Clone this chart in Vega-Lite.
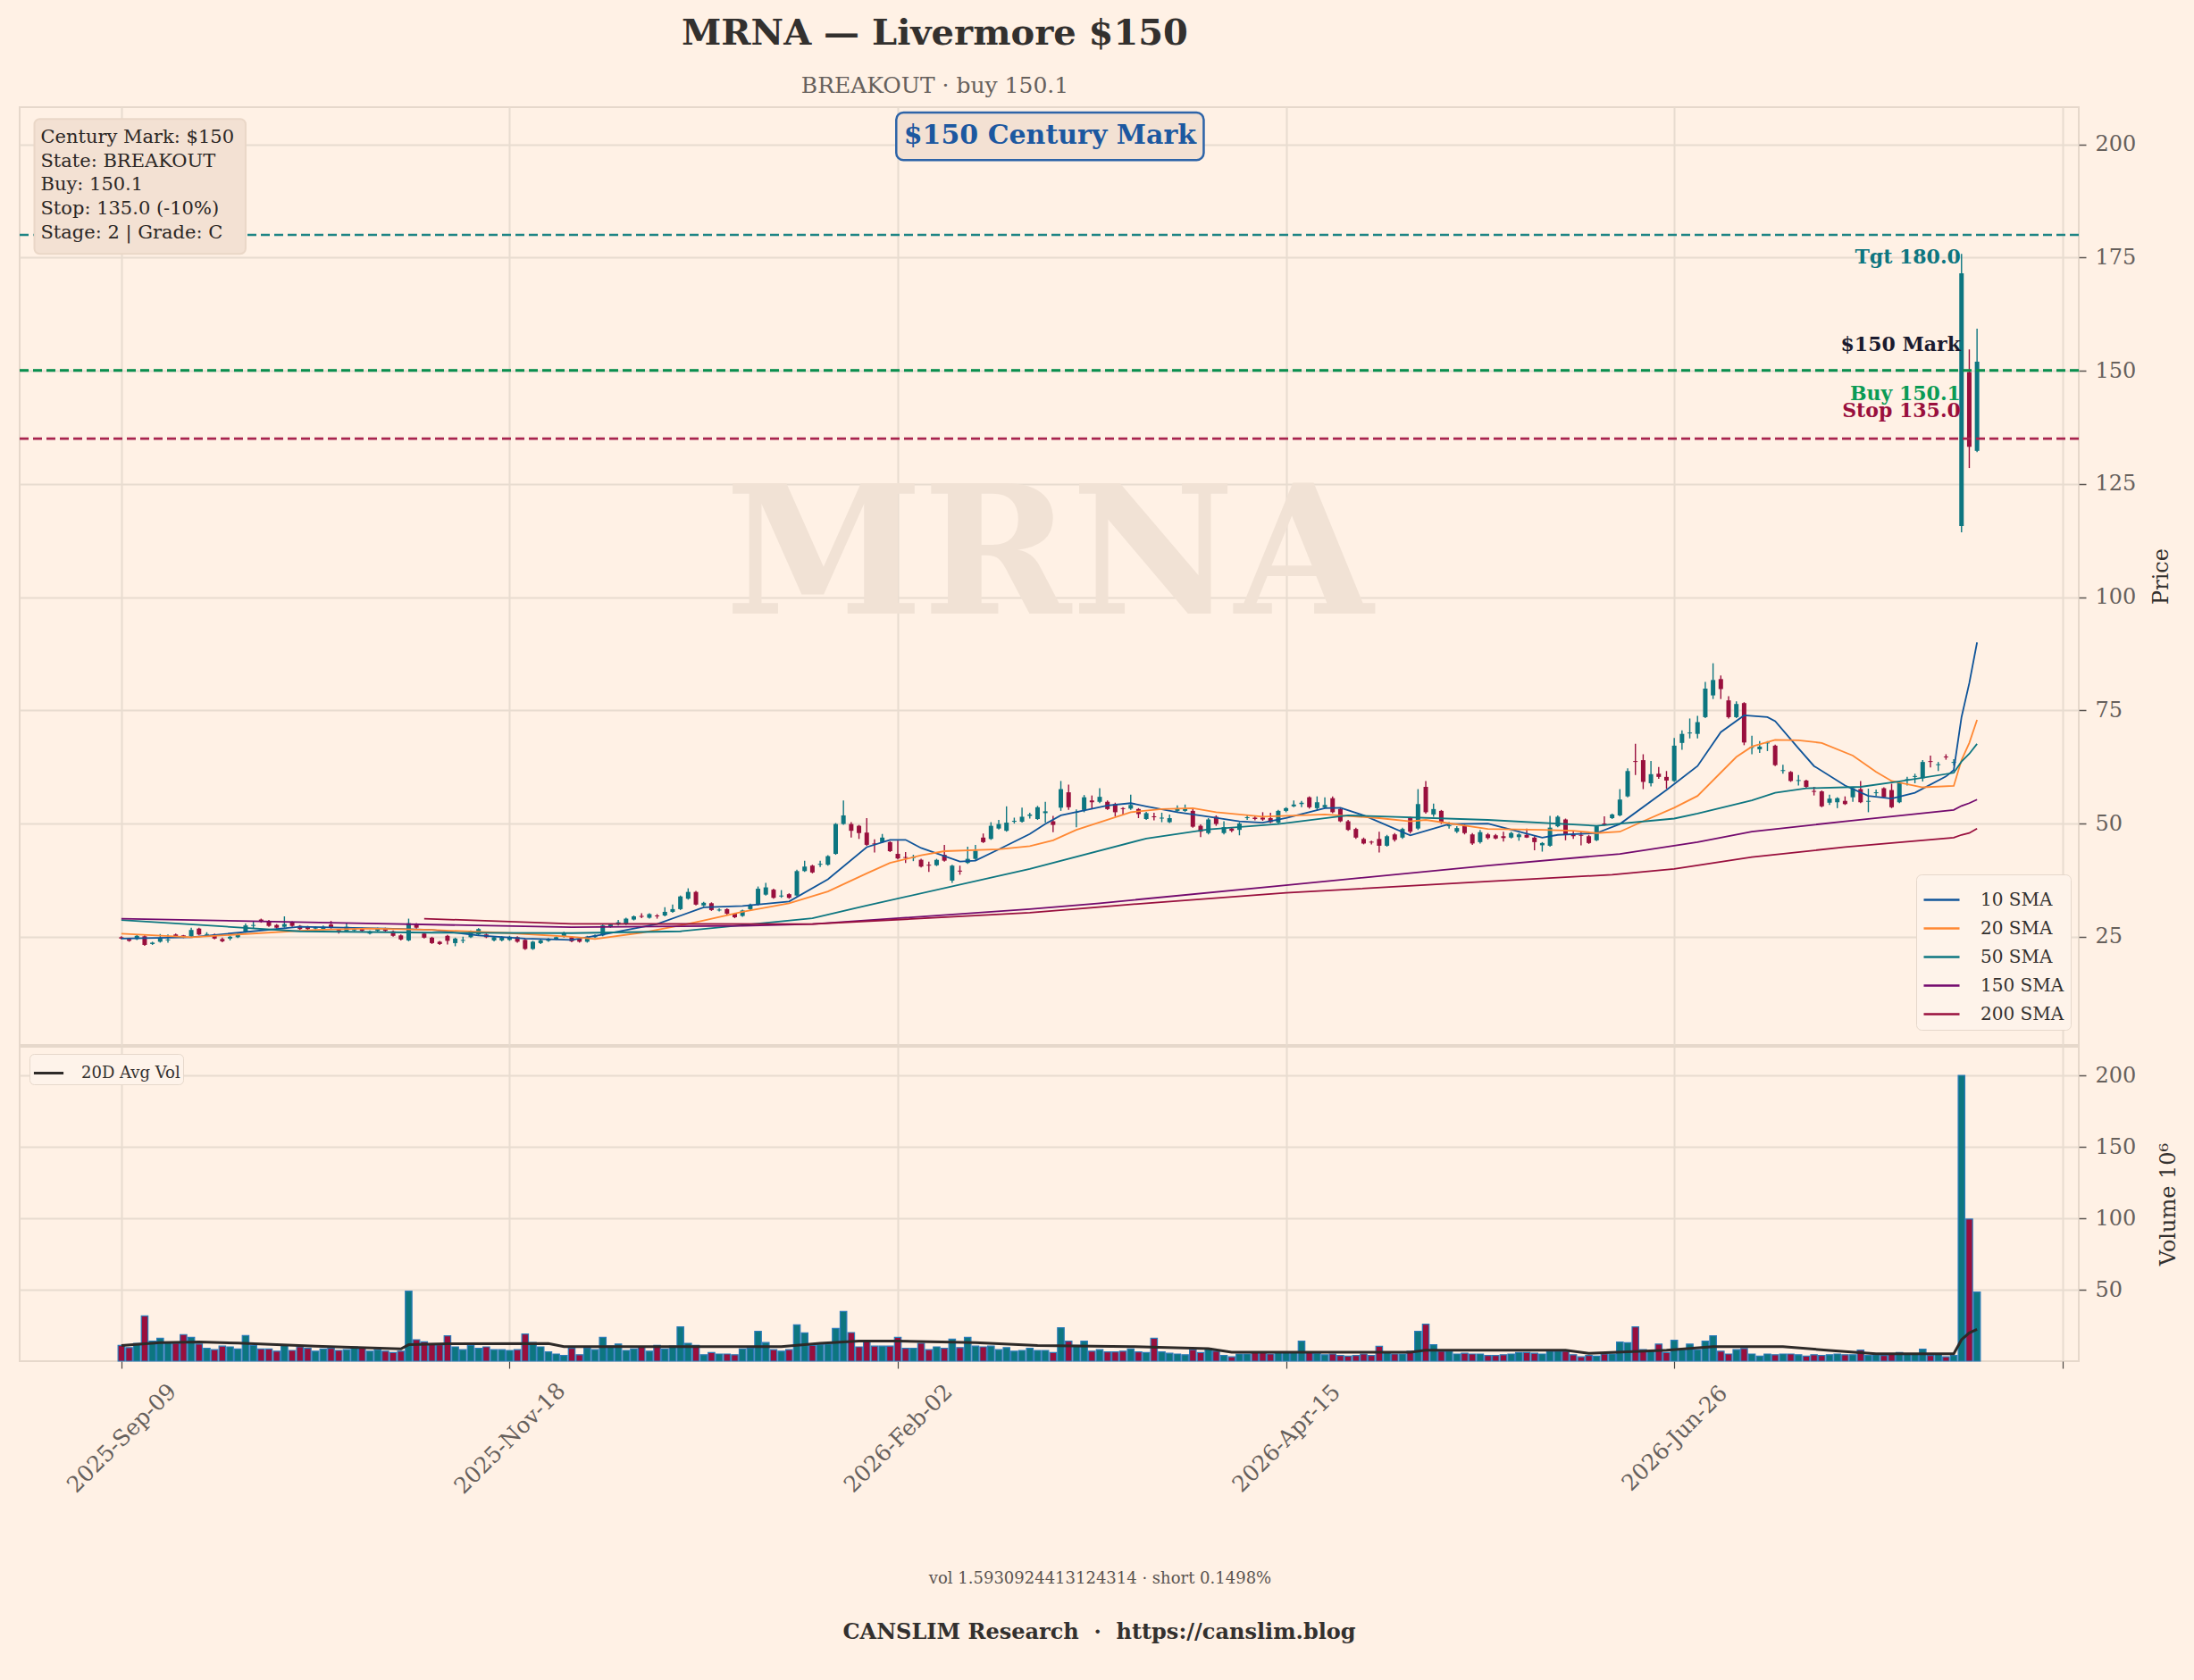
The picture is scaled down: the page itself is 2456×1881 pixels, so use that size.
{
  "$schema": "https://vega.github.io/schema/vega-lite/v6.json",
  "background": "#FFF1E5",
  "padding": {"left": 19, "top": 17, "right": 19, "bottom": 45},
  "config": {
    "font": "DejaVu Serif",
    "view": {"stroke": "#E6D8CB", "strokeWidth": 2},
    "axis": {
      "gridColor": "#E8DCD0", "gridWidth": 2, "domain": false,
      "labelFont": "DejaVu Serif", "labelFontSize": 24, "labelColor": "#66605C",
      "titleFont": "DejaVu Serif", "titleFontWeight": "normal", "titleColor": "#33302E", "titleFontSize": 24,
      "tickColor": "#5A5450", "tickSize": 8, "tickWidth": 1.5
    },
    "legend": {"labelFont": "DejaVu Serif"}
  },
  "datasets": {
    "bars": [
      {"i":0,"o":24.9,"h":25.1,"l":24.4,"c":24.6,"v":11},
      {"i":1,"o":24.5,"h":24.7,"l":23.9,"c":24.1,"v":9.5},
      {"i":2,"o":24.5,"h":25.5,"l":24.3,"c":25.2,"v":12.5},
      {"i":3,"o":25.1,"h":25.3,"l":23.0,"c":23.2,"v":31.7},
      {"i":4,"o":23.4,"h":23.9,"l":23.2,"c":23.7,"v":14},
      {"i":5,"o":23.9,"h":25.6,"l":23.7,"c":24.7,"v":16},
      {"i":6,"o":24.2,"h":25.5,"l":23.7,"c":24.4,"v":13},
      {"i":7,"o":25.5,"h":25.7,"l":24.8,"c":25.0,"v":12.5},
      {"i":8,"o":25.3,"h":25.4,"l":24.7,"c":24.9,"v":18.6},
      {"i":9,"o":25.1,"h":27.0,"l":24.9,"c":26.5,"v":16.7},
      {"i":10,"o":26.8,"h":27.0,"l":25.3,"c":25.5,"v":12},
      {"i":11,"o":25.4,"h":26.0,"l":25.1,"c":25.6,"v":9},
      {"i":12,"o":25.5,"h":25.7,"l":24.4,"c":24.6,"v":8},
      {"i":13,"o":24.5,"h":24.8,"l":23.8,"c":24.0,"v":10.5},
      {"i":14,"o":24.6,"h":25.2,"l":24.2,"c":25.0,"v":10},
      {"i":15,"o":24.9,"h":25.8,"l":24.7,"c":25.5,"v":8.5},
      {"i":16,"o":26.1,"h":27.9,"l":25.9,"c":27.5,"v":17.9},
      {"i":17,"o":27.4,"h":28.5,"l":26.9,"c":27.6,"v":11},
      {"i":18,"o":28.8,"h":29.0,"l":28.1,"c":28.3,"v":8.5},
      {"i":19,"o":28.5,"h":28.7,"l":27.2,"c":27.4,"v":8.5},
      {"i":20,"o":27.6,"h":27.8,"l":26.8,"c":27.0,"v":7},
      {"i":21,"o":27.2,"h":29.5,"l":27.0,"c":27.8,"v":11.5},
      {"i":22,"o":28.2,"h":28.4,"l":27.2,"c":27.4,"v":7.5},
      {"i":23,"o":27.4,"h":27.6,"l":26.5,"c":26.7,"v":10},
      {"i":24,"o":27.2,"h":27.4,"l":26.5,"c":26.7,"v":9},
      {"i":25,"o":26.8,"h":27.3,"l":26.6,"c":27.1,"v":7},
      {"i":26,"o":26.7,"h":27.5,"l":26.5,"c":27.2,"v":8.5},
      {"i":27,"o":27.7,"h":28.5,"l":26.8,"c":27.0,"v":9},
      {"i":28,"o":26.5,"h":26.7,"l":25.7,"c":26.1,"v":7.5},
      {"i":29,"o":26.2,"h":28.0,"l":26.0,"c":27.2,"v":8},
      {"i":30,"o":26.4,"h":26.9,"l":26.2,"c":26.7,"v":10},
      {"i":31,"o":26.7,"h":27.0,"l":26.1,"c":26.3,"v":9.5},
      {"i":32,"o":25.7,"h":26.4,"l":25.5,"c":26.2,"v":7},
      {"i":33,"o":26.3,"h":27.0,"l":26.1,"c":26.8,"v":8},
      {"i":34,"o":26.8,"h":27.0,"l":26.1,"c":26.3,"v":7},
      {"i":35,"o":26.2,"h":26.4,"l":25.0,"c":25.2,"v":6},
      {"i":36,"o":25.3,"h":25.5,"l":24.2,"c":24.4,"v":7},
      {"i":37,"o":24.2,"h":29.0,"l":24.0,"c":28.0,"v":49},
      {"i":38,"o":27.7,"h":28.0,"l":26.8,"c":27.0,"v":15},
      {"i":39,"o":25.7,"h":25.9,"l":24.6,"c":24.8,"v":13.5},
      {"i":40,"o":24.8,"h":25.0,"l":23.4,"c":23.6,"v":12},
      {"i":41,"o":23.9,"h":24.1,"l":23.2,"c":23.4,"v":11.5},
      {"i":42,"o":25.2,"h":25.4,"l":23.3,"c":24.1,"v":17.7},
      {"i":43,"o":23.6,"h":24.8,"l":22.9,"c":24.6,"v":10},
      {"i":44,"o":24.1,"h":25.0,"l":23.6,"c":24.3,"v":8},
      {"i":45,"o":24.9,"h":26.4,"l":24.7,"c":26.2,"v":11},
      {"i":46,"o":25.5,"h":26.9,"l":25.3,"c":26.7,"v":9},
      {"i":47,"o":25.5,"h":25.7,"l":24.7,"c":24.9,"v":10},
      {"i":48,"o":24.2,"h":25.1,"l":24.0,"c":24.9,"v":8},
      {"i":49,"o":24.2,"h":25.1,"l":24.0,"c":24.9,"v":8},
      {"i":50,"o":24.3,"h":25.2,"l":24.1,"c":25.0,"v":7.5},
      {"i":51,"o":24.9,"h":25.1,"l":23.7,"c":23.9,"v":8},
      {"i":52,"o":24.3,"h":24.5,"l":22.1,"c":22.3,"v":19},
      {"i":53,"o":22.3,"h":24.1,"l":22.1,"c":23.9,"v":13},
      {"i":54,"o":23.6,"h":24.4,"l":23.4,"c":24.2,"v":10},
      {"i":55,"o":24.1,"h":24.7,"l":23.9,"c":24.5,"v":6.5},
      {"i":56,"o":24.5,"h":25.1,"l":24.3,"c":24.9,"v":5},
      {"i":57,"o":25.0,"h":26.1,"l":24.8,"c":25.9,"v":4},
      {"i":58,"o":24.9,"h":25.1,"l":23.8,"c":24.0,"v":9},
      {"i":59,"o":24.6,"h":24.8,"l":23.7,"c":23.9,"v":4.5},
      {"i":60,"o":23.9,"h":25.2,"l":23.7,"c":25.0,"v":9},
      {"i":61,"o":24.9,"h":25.5,"l":24.7,"c":25.3,"v":8},
      {"i":62,"o":25.3,"h":27.7,"l":25.1,"c":27.5,"v":16.7},
      {"i":63,"o":27.2,"h":27.9,"l":27.0,"c":27.7,"v":10.5},
      {"i":64,"o":27.7,"h":28.7,"l":27.5,"c":28.2,"v":12},
      {"i":65,"o":27.8,"h":29.2,"l":27.6,"c":29.0,"v":7.5},
      {"i":66,"o":28.8,"h":29.7,"l":28.6,"c":29.5,"v":8.5},
      {"i":67,"o":29.6,"h":30.2,"l":29.1,"c":29.4,"v":10},
      {"i":68,"o":29.2,"h":30.2,"l":29.0,"c":30.0,"v":7},
      {"i":69,"o":29.7,"h":30.0,"l":29.0,"c":29.5,"v":11},
      {"i":70,"o":29.7,"h":31.5,"l":29.5,"c":30.5,"v":8.5},
      {"i":71,"o":30.5,"h":32.1,"l":30.3,"c":31.1,"v":10.5},
      {"i":72,"o":31.1,"h":34.1,"l":30.9,"c":33.9,"v":24},
      {"i":73,"o":33.4,"h":35.7,"l":33.2,"c":34.9,"v":12.5},
      {"i":74,"o":34.9,"h":35.1,"l":31.9,"c":32.1,"v":11},
      {"i":75,"o":31.9,"h":32.7,"l":31.7,"c":32.5,"v":4.5},
      {"i":76,"o":32.4,"h":32.6,"l":30.7,"c":30.9,"v":6},
      {"i":77,"o":30.8,"h":31.3,"l":30.6,"c":31.0,"v":5},
      {"i":78,"o":31.1,"h":31.3,"l":29.9,"c":30.1,"v":5},
      {"i":79,"o":30.1,"h":30.3,"l":29.1,"c":29.3,"v":4.5},
      {"i":80,"o":29.6,"h":31.0,"l":29.4,"c":30.8,"v":8.5},
      {"i":81,"o":31.1,"h":32.3,"l":30.9,"c":32.1,"v":9},
      {"i":82,"o":32.1,"h":36.1,"l":31.9,"c":35.6,"v":20.8},
      {"i":83,"o":34.3,"h":36.9,"l":34.1,"c":35.9,"v":13},
      {"i":84,"o":35.4,"h":35.6,"l":33.4,"c":33.6,"v":8},
      {"i":85,"o":33.9,"h":35.3,"l":33.6,"c":34.1,"v":7},
      {"i":86,"o":34.4,"h":34.6,"l":33.4,"c":33.6,"v":8},
      {"i":87,"o":34.1,"h":39.8,"l":33.9,"c":39.5,"v":25.4},
      {"i":88,"o":39.5,"h":41.8,"l":39.3,"c":40.5,"v":19.8},
      {"i":89,"o":40.7,"h":40.9,"l":39.0,"c":39.2,"v":11},
      {"i":90,"o":40.9,"h":41.8,"l":40.4,"c":41.1,"v":11.5},
      {"i":91,"o":40.9,"h":43.0,"l":40.7,"c":42.8,"v":12},
      {"i":92,"o":43.3,"h":50.1,"l":43.1,"c":49.9,"v":22.9},
      {"i":93,"o":49.9,"h":55.1,"l":49.7,"c":51.8,"v":34.8},
      {"i":94,"o":49.9,"h":50.3,"l":46.9,"c":48.4,"v":20},
      {"i":95,"o":49.5,"h":49.7,"l":46.6,"c":47.9,"v":10},
      {"i":96,"o":48.0,"h":51.2,"l":45.1,"c":45.3,"v":14},
      {"i":97,"o":45.6,"h":46.5,"l":43.6,"c":45.4,"v":10.5},
      {"i":98,"o":45.9,"h":47.7,"l":45.7,"c":46.9,"v":10.5},
      {"i":99,"o":45.9,"h":46.1,"l":43.7,"c":43.9,"v":10.5},
      {"i":100,"o":43.3,"h":46.2,"l":42.1,"c":42.3,"v":16.7},
      {"i":101,"o":42.6,"h":43.7,"l":41.3,"c":42.4,"v":9},
      {"i":102,"o":42.4,"h":43.1,"l":41.7,"c":42.6,"v":9},
      {"i":103,"o":42.0,"h":42.2,"l":40.3,"c":40.5,"v":12.5},
      {"i":104,"o":40.9,"h":41.6,"l":39.3,"c":40.7,"v":8},
      {"i":105,"o":40.8,"h":42.2,"l":40.6,"c":42.0,"v":10},
      {"i":106,"o":43.1,"h":45.3,"l":41.6,"c":41.8,"v":9},
      {"i":107,"o":37.4,"h":40.9,"l":36.9,"c":40.7,"v":15.4},
      {"i":108,"o":39.6,"h":40.7,"l":38.7,"c":39.4,"v":9.5},
      {"i":109,"o":41.3,"h":44.9,"l":41.1,"c":42.2,"v":16.7},
      {"i":110,"o":42.2,"h":45.3,"l":42.0,"c":44.0,"v":10.5},
      {"i":111,"o":46.9,"h":47.8,"l":45.7,"c":45.9,"v":10},
      {"i":112,"o":46.6,"h":50.3,"l":46.4,"c":49.5,"v":10.5},
      {"i":113,"o":48.9,"h":50.8,"l":48.7,"c":49.9,"v":8},
      {"i":114,"o":48.4,"h":53.8,"l":48.2,"c":50.2,"v":9.5},
      {"i":115,"o":50.4,"h":51.3,"l":50.0,"c":50.6,"v":7},
      {"i":116,"o":50.4,"h":53.5,"l":50.2,"c":51.5,"v":7.5},
      {"i":117,"o":51.7,"h":52.4,"l":51.1,"c":52.0,"v":9},
      {"i":118,"o":51.0,"h":53.9,"l":50.8,"c":53.6,"v":7.5},
      {"i":119,"o":52.3,"h":54.8,"l":50.2,"c":52.7,"v":7.5},
      {"i":120,"o":50.5,"h":51.7,"l":48.1,"c":49.7,"v":6},
      {"i":121,"o":53.5,"h":59.4,"l":52.8,"c":57.6,"v":23.3},
      {"i":122,"o":56.9,"h":58.6,"l":53.0,"c":53.6,"v":14},
      {"i":123,"o":52.4,"h":53.1,"l":49.2,"c":52.6,"v":11},
      {"i":124,"o":53.0,"h":56.3,"l":52.5,"c":55.8,"v":14},
      {"i":125,"o":55.1,"h":56.2,"l":53.2,"c":54.7,"v":7},
      {"i":126,"o":54.8,"h":57.8,"l":54.5,"c":55.9,"v":8},
      {"i":127,"o":54.8,"h":55.1,"l":53.0,"c":53.2,"v":6.5},
      {"i":128,"o":54.3,"h":54.6,"l":51.6,"c":52.5,"v":6.5},
      {"i":129,"o":53.4,"h":53.6,"l":52.0,"c":53.2,"v":7},
      {"i":130,"o":53.3,"h":56.4,"l":53.0,"c":54.1,"v":8.5},
      {"i":131,"o":53.2,"h":53.4,"l":51.2,"c":52.1,"v":6.5},
      {"i":132,"o":51.0,"h":52.6,"l":50.8,"c":52.3,"v":6},
      {"i":133,"o":51.6,"h":52.4,"l":50.7,"c":51.4,"v":16},
      {"i":134,"o":51.1,"h":52.4,"l":50.3,"c":51.3,"v":6.5},
      {"i":135,"o":50.3,"h":52.0,"l":50.1,"c":51.2,"v":5.5},
      {"i":136,"o":52.8,"h":54.0,"l":52.5,"c":53.4,"v":5},
      {"i":137,"o":52.8,"h":54.2,"l":52.6,"c":53.4,"v":4.5},
      {"i":138,"o":52.8,"h":53.2,"l":49.1,"c":49.3,"v":8},
      {"i":139,"o":49.5,"h":49.8,"l":47.0,"c":48.2,"v":6},
      {"i":140,"o":47.9,"h":51.2,"l":47.6,"c":50.9,"v":9},
      {"i":141,"o":51.5,"h":51.8,"l":49.5,"c":49.9,"v":7},
      {"i":142,"o":47.9,"h":50.5,"l":47.6,"c":49.2,"v":4},
      {"i":143,"o":48.9,"h":49.2,"l":48.1,"c":48.4,"v":3},
      {"i":144,"o":48.6,"h":50.3,"l":47.4,"c":50.0,"v":5},
      {"i":145,"o":51.2,"h":52.0,"l":50.8,"c":51.4,"v":5},
      {"i":146,"o":51.3,"h":51.8,"l":50.7,"c":51.0,"v":6},
      {"i":147,"o":51.3,"h":52.5,"l":50.6,"c":50.9,"v":6},
      {"i":148,"o":51.2,"h":52.4,"l":50.1,"c":50.3,"v":5},
      {"i":149,"o":50.2,"h":53.0,"l":50.0,"c":52.8,"v":6},
      {"i":150,"o":52.8,"h":53.6,"l":52.5,"c":53.4,"v":6},
      {"i":151,"o":53.8,"h":55.1,"l":53.6,"c":54.2,"v":6},
      {"i":152,"o":54.3,"h":55.0,"l":53.6,"c":54.6,"v":14},
      {"i":153,"o":55.8,"h":56.0,"l":53.3,"c":53.6,"v":6.5},
      {"i":154,"o":53.4,"h":56.0,"l":53.0,"c":54.7,"v":5.5},
      {"i":155,"o":53.6,"h":55.8,"l":53.3,"c":54.1,"v":4.5},
      {"i":156,"o":55.6,"h":56.0,"l":52.3,"c":52.5,"v":5},
      {"i":157,"o":53.2,"h":53.5,"l":50.3,"c":50.5,"v":4},
      {"i":158,"o":50.5,"h":50.8,"l":48.4,"c":48.6,"v":3.5},
      {"i":159,"o":48.8,"h":49.1,"l":46.6,"c":46.9,"v":4},
      {"i":160,"o":46.6,"h":46.9,"l":45.4,"c":45.6,"v":5},
      {"i":161,"o":46.0,"h":46.2,"l":45.4,"c":45.8,"v":4},
      {"i":162,"o":46.6,"h":48.2,"l":43.6,"c":45.1,"v":10.4},
      {"i":163,"o":45.1,"h":47.5,"l":44.9,"c":47.2,"v":6},
      {"i":164,"o":47.6,"h":47.9,"l":46.0,"c":46.4,"v":5},
      {"i":165,"o":46.9,"h":49.1,"l":46.6,"c":48.8,"v":5},
      {"i":166,"o":51.2,"h":51.5,"l":47.8,"c":48.2,"v":7},
      {"i":167,"o":48.9,"h":57.6,"l":48.6,"c":54.3,"v":20.8},
      {"i":168,"o":58.1,"h":59.4,"l":52.2,"c":52.5,"v":25.8},
      {"i":169,"o":52.0,"h":54.4,"l":51.5,"c":53.2,"v":11.5},
      {"i":170,"o":52.8,"h":53.0,"l":49.9,"c":50.2,"v":7},
      {"i":171,"o":49.4,"h":50.3,"l":48.9,"c":49.6,"v":7},
      {"i":172,"o":48.2,"h":49.4,"l":47.9,"c":49.0,"v":5},
      {"i":173,"o":49.5,"h":49.8,"l":47.6,"c":47.9,"v":5.5},
      {"i":174,"o":47.6,"h":47.9,"l":45.3,"c":45.6,"v":5},
      {"i":175,"o":45.9,"h":48.6,"l":45.6,"c":48.1,"v":5},
      {"i":176,"o":47.6,"h":47.9,"l":46.5,"c":46.8,"v":4},
      {"i":177,"o":47.4,"h":47.7,"l":46.5,"c":46.7,"v":4},
      {"i":178,"o":47.2,"h":48.2,"l":46.0,"c":46.8,"v":4.5},
      {"i":179,"o":46.9,"h":48.2,"l":46.7,"c":47.9,"v":5},
      {"i":180,"o":47.0,"h":47.9,"l":46.2,"c":47.6,"v":6},
      {"i":181,"o":47.5,"h":48.9,"l":46.8,"c":46.9,"v":6},
      {"i":182,"o":46.9,"h":47.2,"l":44.1,"c":45.9,"v":5.5},
      {"i":183,"o":45.2,"h":45.9,"l":43.8,"c":45.7,"v":5},
      {"i":184,"o":45.1,"h":51.7,"l":44.9,"c":49.1,"v":7},
      {"i":185,"o":49.4,"h":51.8,"l":49.2,"c":51.5,"v":7},
      {"i":186,"o":50.9,"h":51.1,"l":46.3,"c":47.6,"v":7},
      {"i":187,"o":47.6,"h":48.4,"l":46.6,"c":47.2,"v":4.5},
      {"i":188,"o":47.5,"h":48.2,"l":45.2,"c":47.3,"v":3},
      {"i":189,"o":47.2,"h":47.5,"l":45.5,"c":45.7,"v":4},
      {"i":190,"o":46.3,"h":49.6,"l":46.1,"c":49.4,"v":3.5},
      {"i":191,"o":50.0,"h":51.6,"l":49.5,"c":49.7,"v":5},
      {"i":192,"o":51.2,"h":52.2,"l":51.0,"c":52.0,"v":5},
      {"i":193,"o":51.8,"h":57.6,"l":51.6,"c":55.3,"v":13.3},
      {"i":194,"o":56.0,"h":62.2,"l":55.8,"c":61.6,"v":12.9},
      {"i":195,"o":63.8,"h":67.6,"l":60.7,"c":63.6,"v":24},
      {"i":196,"o":64.0,"h":65.3,"l":57.6,"c":59.2,"v":8},
      {"i":197,"o":58.9,"h":63.8,"l":58.2,"c":60.9,"v":7},
      {"i":198,"o":61.0,"h":62.5,"l":59.9,"c":60.3,"v":11.9},
      {"i":199,"o":60.3,"h":61.6,"l":57.7,"c":59.5,"v":6},
      {"i":200,"o":59.4,"h":68.9,"l":59.2,"c":67.2,"v":14.6},
      {"i":201,"o":67.8,"h":70.6,"l":66.3,"c":69.8,"v":8},
      {"i":202,"o":69.9,"h":73.2,"l":68.8,"c":70.1,"v":11.9},
      {"i":203,"o":69.8,"h":73.8,"l":68.8,"c":72.4,"v":8},
      {"i":204,"o":73.5,"h":81.3,"l":73.3,"c":79.8,"v":14},
      {"i":205,"o":78.3,"h":85.4,"l":77.5,"c":81.7,"v":17.7},
      {"i":206,"o":81.9,"h":82.7,"l":77.5,"c":79.7,"v":7},
      {"i":207,"o":77.2,"h":78.1,"l":73.2,"c":73.5,"v":5},
      {"i":208,"o":73.5,"h":77.0,"l":73.3,"c":76.4,"v":8},
      {"i":209,"o":76.6,"h":76.8,"l":67.3,"c":67.9,"v":8.8},
      {"i":210,"o":66.7,"h":69.4,"l":65.3,"c":66.9,"v":5},
      {"i":211,"o":66.4,"h":68.2,"l":65.6,"c":67.0,"v":3.5},
      {"i":212,"o":67.7,"h":68.2,"l":66.0,"c":67.9,"v":5},
      {"i":213,"o":67.2,"h":67.4,"l":62.7,"c":62.9,"v":4.5},
      {"i":214,"o":61.6,"h":63.0,"l":61.0,"c":61.8,"v":5},
      {"i":215,"o":61.4,"h":61.6,"l":59.2,"c":59.4,"v":5},
      {"i":216,"o":59.4,"h":60.7,"l":58.4,"c":59.6,"v":4.5},
      {"i":217,"o":59.5,"h":59.7,"l":57.9,"c":58.1,"v":3.5},
      {"i":218,"o":57.2,"h":58.1,"l":56.2,"c":57.0,"v":4.5},
      {"i":219,"o":57.1,"h":57.3,"l":53.6,"c":53.8,"v":4},
      {"i":220,"o":54.6,"h":56.4,"l":54.1,"c":55.5,"v":4.5},
      {"i":221,"o":54.7,"h":55.8,"l":53.4,"c":55.6,"v":5},
      {"i":222,"o":55.0,"h":56.0,"l":54.1,"c":54.3,"v":4.5},
      {"i":223,"o":55.8,"h":58.0,"l":54.8,"c":57.8,"v":4.5},
      {"i":224,"o":57.6,"h":59.4,"l":54.5,"c":54.7,"v":7.7},
      {"i":225,"o":54.8,"h":57.7,"l":52.5,"c":55.0,"v":4},
      {"i":226,"o":56.7,"h":57.5,"l":56.1,"c":56.9,"v":4.5},
      {"i":227,"o":57.8,"h":58.0,"l":55.6,"c":55.8,"v":4},
      {"i":228,"o":57.4,"h":58.8,"l":53.4,"c":53.6,"v":5},
      {"i":229,"o":54.7,"h":59.3,"l":54.5,"c":59.1,"v":6},
      {"i":230,"o":59.6,"h":60.3,"l":58.4,"c":59.8,"v":5},
      {"i":231,"o":60.3,"h":61.0,"l":58.9,"c":60.5,"v":5},
      {"i":232,"o":60.0,"h":64.0,"l":59.3,"c":63.6,"v":8.3},
      {"i":233,"o":63.8,"h":65.0,"l":62.4,"c":63.6,"v":4},
      {"i":234,"o":62.9,"h":63.6,"l":61.6,"c":63.1,"v":5},
      {"i":235,"o":64.8,"h":65.3,"l":64.1,"c":64.6,"v":3},
      {"i":236,"o":63.4,"h":64.2,"l":62.8,"c":63.6,"v":4},
      {"i":237,"o":115.7,"h":175.8,"l":114.3,"c":171.5,"v":200},
      {"i":238,"o":149.7,"h":154.7,"l":128.5,"c":133.2,"v":99.4},
      {"i":239,"o":132.3,"h":159.3,"l":132.0,"c":152.0,"v":48.3}
    ],
    "sma": [
      {"s":"10 SMA","i":0,"v":24.6},{"s":"10 SMA","i":9,"v":24.9},{"s":"10 SMA","i":23,"v":27.2},{"s":"10 SMA","i":34,"v":26.8},
      {"s":"10 SMA","i":40,"v":26.5},{"s":"10 SMA","i":46,"v":25.3},{"s":"10 SMA","i":52,"v":24.6},{"s":"10 SMA","i":58,"v":24.3},
      {"s":"10 SMA","i":62,"v":25.5},{"s":"10 SMA","i":69,"v":27.8},{"s":"10 SMA","i":75,"v":31.5},{"s":"10 SMA","i":80,"v":31.8},
      {"s":"10 SMA","i":86,"v":32.8},{"s":"10 SMA","i":91,"v":37.7},{"s":"10 SMA","i":96,"v":44.8},{"s":"10 SMA","i":99,"v":46.4},
      {"s":"10 SMA","i":101,"v":46.4},{"s":"10 SMA","i":103,"v":44.6},{"s":"10 SMA","i":108,"v":41.6},{"s":"10 SMA","i":110,"v":41.8},
      {"s":"10 SMA","i":113,"v":44.3},{"s":"10 SMA","i":117,"v":47.7},{"s":"10 SMA","i":119,"v":49.9},{"s":"10 SMA","i":121,"v":51.8},
      {"s":"10 SMA","i":127,"v":54.0},{"s":"10 SMA","i":130,"v":54.5},{"s":"10 SMA","i":132,"v":53.8},{"s":"10 SMA","i":136,"v":52.5},
      {"s":"10 SMA","i":140,"v":51.5},{"s":"10 SMA","i":144,"v":50.5},{"s":"10 SMA","i":147,"v":50.2},{"s":"10 SMA","i":150,"v":51.2},
      {"s":"10 SMA","i":155,"v":53.4},{"s":"10 SMA","i":157,"v":53.5},{"s":"10 SMA","i":160,"v":51.8},{"s":"10 SMA","i":166,"v":47.4},
      {"s":"10 SMA","i":171,"v":49.9},{"s":"10 SMA","i":176,"v":50.0},{"s":"10 SMA","i":180,"v":48.2},{"s":"10 SMA","i":183,"v":46.9},
      {"s":"10 SMA","i":185,"v":47.5},{"s":"10 SMA","i":190,"v":47.9},{"s":"10 SMA","i":193,"v":49.9},{"s":"10 SMA","i":199,"v":57.4},
      {"s":"10 SMA","i":203,"v":62.7},{"s":"10 SMA","i":206,"v":70.2},{"s":"10 SMA","i":209,"v":73.9},{"s":"10 SMA","i":212,"v":73.5},
      {"s":"10 SMA","i":213,"v":72.6},{"s":"10 SMA","i":216,"v":66.6},{"s":"10 SMA","i":218,"v":62.7},{"s":"10 SMA","i":222,"v":58.4},
      {"s":"10 SMA","i":225,"v":56.1},{"s":"10 SMA","i":228,"v":55.5},{"s":"10 SMA","i":231,"v":56.8},{"s":"10 SMA","i":235,"v":60.4},
      {"s":"10 SMA","i":236,"v":61.8},{"s":"10 SMA","i":237,"v":73.5},{"s":"10 SMA","i":238,"v":81.0},{"s":"10 SMA","i":239,"v":90.0},

      {"s":"20 SMA","i":0,"v":25.7},{"s":"20 SMA","i":9,"v":24.9},{"s":"20 SMA","i":25,"v":26.5},{"s":"20 SMA","i":32,"v":26.8},
      {"s":"20 SMA","i":40,"v":26.5},{"s":"20 SMA","i":50,"v":25.8},{"s":"20 SMA","i":58,"v":25.0},{"s":"20 SMA","i":61,"v":24.5},
      {"s":"20 SMA","i":67,"v":25.9},{"s":"20 SMA","i":72,"v":27.5},{"s":"20 SMA","i":75,"v":28.6},{"s":"20 SMA","i":80,"v":30.5},
      {"s":"20 SMA","i":86,"v":32.4},{"s":"20 SMA","i":91,"v":35.0},{"s":"20 SMA","i":96,"v":39.0},{"s":"20 SMA","i":99,"v":41.3},
      {"s":"20 SMA","i":103,"v":43.0},{"s":"20 SMA","i":106,"v":43.9},{"s":"20 SMA","i":113,"v":44.3},{"s":"20 SMA","i":117,"v":45.0},
      {"s":"20 SMA","i":120,"v":46.3},{"s":"20 SMA","i":123,"v":48.6},{"s":"20 SMA","i":130,"v":52.5},{"s":"20 SMA","i":134,"v":53.2},
      {"s":"20 SMA","i":138,"v":53.4},{"s":"20 SMA","i":141,"v":52.5},{"s":"20 SMA","i":147,"v":51.5},{"s":"20 SMA","i":155,"v":52.0},
      {"s":"20 SMA","i":162,"v":51.2},{"s":"20 SMA","i":166,"v":50.5},{"s":"20 SMA","i":168,"v":50.8},{"s":"20 SMA","i":176,"v":48.8},
      {"s":"20 SMA","i":183,"v":48.6},{"s":"20 SMA","i":187,"v":48.4},{"s":"20 SMA","i":190,"v":47.9},{"s":"20 SMA","i":193,"v":48.2},
      {"s":"20 SMA","i":196,"v":50.5},{"s":"20 SMA","i":200,"v":53.5},{"s":"20 SMA","i":203,"v":56.1},{"s":"20 SMA","i":208,"v":64.7},
      {"s":"20 SMA","i":210,"v":67.0},{"s":"20 SMA","i":213,"v":68.5},{"s":"20 SMA","i":216,"v":68.4},{"s":"20 SMA","i":219,"v":67.8},
      {"s":"20 SMA","i":223,"v":65.0},{"s":"20 SMA","i":226,"v":61.4},{"s":"20 SMA","i":228,"v":59.4},{"s":"20 SMA","i":232,"v":58.0},
      {"s":"20 SMA","i":236,"v":58.3},{"s":"20 SMA","i":237,"v":64.0},{"s":"20 SMA","i":238,"v":67.8},{"s":"20 SMA","i":239,"v":72.9},

      {"s":"50 SMA","i":0,"v":28.7},{"s":"50 SMA","i":12,"v":27.4},{"s":"50 SMA","i":23,"v":26.2},{"s":"50 SMA","i":40,"v":25.9},
      {"s":"50 SMA","i":58,"v":25.8},{"s":"50 SMA","i":72,"v":26.2},{"s":"50 SMA","i":89,"v":29.1},{"s":"50 SMA","i":96,"v":31.9},
      {"s":"50 SMA","i":117,"v":40.0},{"s":"50 SMA","i":132,"v":46.7},{"s":"50 SMA","i":140,"v":48.7},{"s":"50 SMA","i":149,"v":49.9},
      {"s":"50 SMA","i":158,"v":51.8},{"s":"50 SMA","i":176,"v":50.8},{"s":"50 SMA","i":190,"v":49.5},{"s":"50 SMA","i":200,"v":51.1},
      {"s":"50 SMA","i":203,"v":52.2},{"s":"50 SMA","i":210,"v":55.1},{"s":"50 SMA","i":213,"v":56.8},{"s":"50 SMA","i":217,"v":57.8},
      {"s":"50 SMA","i":224,"v":58.1},{"s":"50 SMA","i":229,"v":59.3},{"s":"50 SMA","i":236,"v":61.2},{"s":"50 SMA","i":237,"v":63.7},
      {"s":"50 SMA","i":238,"v":65.4},{"s":"50 SMA","i":239,"v":67.6},

      {"s":"150 SMA","i":0,"v":29.0},{"s":"150 SMA","i":30,"v":28.0},{"s":"150 SMA","i":58,"v":27.1},{"s":"150 SMA","i":80,"v":27.4},
      {"s":"150 SMA","i":89,"v":27.8},{"s":"150 SMA","i":117,"v":31.1},{"s":"150 SMA","i":126,"v":32.4},{"s":"150 SMA","i":150,"v":36.4},
      {"s":"150 SMA","i":176,"v":40.7},{"s":"150 SMA","i":193,"v":43.3},{"s":"150 SMA","i":203,"v":45.9},{"s":"150 SMA","i":210,"v":48.2},
      {"s":"150 SMA","i":222,"v":50.5},{"s":"150 SMA","i":236,"v":53.0},{"s":"150 SMA","i":237,"v":53.9},{"s":"150 SMA","i":238,"v":54.5},
      {"s":"150 SMA","i":239,"v":55.3},

      {"s":"200 SMA","i":39,"v":29.0},{"s":"200 SMA","i":58,"v":27.85},{"s":"200 SMA","i":89,"v":27.8},{"s":"200 SMA","i":117,"v":30.3},
      {"s":"200 SMA","i":132,"v":32.4},{"s":"200 SMA","i":150,"v":34.7},{"s":"200 SMA","i":176,"v":37.2},{"s":"200 SMA","i":192,"v":38.7},
      {"s":"200 SMA","i":200,"v":40.0},{"s":"200 SMA","i":210,"v":42.6},{"s":"200 SMA","i":222,"v":44.8},{"s":"200 SMA","i":236,"v":46.9},
      {"s":"200 SMA","i":237,"v":47.5},{"s":"200 SMA","i":238,"v":47.9},{"s":"200 SMA","i":239,"v":48.9}
    ],
    "avgvol": [
      {"i":0,"v":11},{"i":5,"v":13},{"i":10,"v":13.4},{"i":15,"v":12.6},{"i":25,"v":10.5},{"i":36,"v":8.6},
      {"i":37,"v":11.5},{"i":42,"v":12.2},{"i":55,"v":12.3},{"i":57,"v":10.2},{"i":85,"v":10.2},{"i":90,"v":12.5},
      {"i":95,"v":14},{"i":100,"v":14},{"i":110,"v":12.9},{"i":118,"v":11},{"i":130,"v":10.2},{"i":140,"v":8.8},
      {"i":143,"v":6.3},{"i":166,"v":6.3},{"i":168,"v":7.7},{"i":186,"v":7.7},{"i":189,"v":5.5},{"i":199,"v":7.7},
      {"i":205,"v":10.2},{"i":214,"v":10.2},{"i":220,"v":7.5},{"i":226,"v":5.2},{"i":236,"v":5.2},{"i":237,"v":15},
      {"i":238,"v":19.8},{"i":239,"v":22.3}
    ],
    "levels": [
      {"lab":"Tgt 180.0","y":180},
      {"lab":"$150 Mark","y":150},
      {"lab":"Buy 150.1","y":150.1},
      {"lab":"Stop 135.0","y":135}
    ],
    "notes": [
      {"ticker":"MRNA","badge":"$150 Century Mark","info":"Century Mark: $150\nState: BREAKOUT\nBuy: 150.1\nStop: 135.0 (-10%)\nStage: 2 | Grade: C"}
    ]
  },
  "spacing": 0,
  "resolve": {"scale": {"x": "independent", "y": "independent", "color": "independent"}},
  "vconcat": [
    {
      "width": 2305,
      "height": 1050,
      "title": {
        "text": "MRNA — Livermore $150",
        "subtitle": "BREAKOUT · buy 150.1",
        "font": "DejaVu Serif", "subtitleFont": "DejaVu Serif",
        "fontSize": 40, "fontWeight": "bold", "color": "#33302E",
        "subtitleFontSize": 25, "subtitleColor": "#66605C", "subtitlePadding": 26,
        "offset": 11, "anchor": "middle", "frame": "group", "dx": -128
      },
      "layer": [
        {
          "data": {"name": "notes"},
          "mark": {"type": "text", "fontSize": 200, "fontWeight": "bold", "fill": "#F1E2D5", "align": "center", "baseline": "middle"},
          "encoding": {
            "x": {"datum": 119.5, "type": "quantitative", "scale": {"domain": [-13.1, 252.1], "nice": false, "zero": false, "padding": 0},
                  "axis": {"values": [0, 50, 100, 150, 200, 250], "labels": false, "ticks": false, "title": null, "grid": true}},
            "y": {"datum": 108.2, "type": "quantitative", "scale": {"domain": [1.1, 208.2], "nice": false, "zero": false, "padding": 0},
                  "axis": {"orient": "right", "values": [25, 50, 75, 100, 125, 150, 175, 200], "grid": true, "labelPadding": 10,
                           "title": "Price", "titleAngle": 270, "titleX": 92, "titleY": 525, "titleAlign": "center", "titleBaseline": "middle"}},
            "text": {"field": "ticker"}
          }
        },
        {
          "data": {"name": "bars"},
          "mark": {"type": "rule", "strokeWidth": 1.4},
          "encoding": {
            "x": {"field": "i", "type": "quantitative"},
            "y": {"field": "l", "type": "quantitative"},
            "y2": {"field": "h"},
            "stroke": {"condition": {"test": "datum.c >= datum.o", "value": "#0D7680"}, "value": "#990F3D"}
          }
        },
        {
          "data": {"name": "bars"},
          "mark": {"type": "bar", "size": 5},
          "encoding": {
            "x": {"field": "i", "type": "quantitative"},
            "y": {"field": "o", "type": "quantitative"},
            "y2": {"field": "c"},
            "fill": {"condition": {"test": "datum.c >= datum.o", "value": "#0D7680"}, "value": "#990F3D"}
          }
        },
        {
          "data": {"name": "sma"},
          "mark": {"type": "line"},
          "encoding": {
            "x": {"field": "i", "type": "quantitative"},
            "y": {"field": "v", "type": "quantitative"},
            "color": {
              "field": "s", "type": "nominal",
              "scale": {"domain": ["10 SMA", "20 SMA", "50 SMA", "150 SMA", "200 SMA"],
                        "range": ["#0F5499", "#FF8833", "#0D7680", "#730A6E", "#990F3D"]},
              "legend": {"orient": "none", "legendX": 2123, "legendY": 859, "title": null,
                         "fillColor": "#FEF3EA", "strokeColor": "#E6D8CB", "cornerRadius": 6, "padding": 7,
                         "labelFontSize": 20, "labelColor": "#33302E", "symbolType": "stroke",
                         "symbolSize": 1600, "symbolStrokeWidth": 2.6, "rowPadding": -7, "labelOffset": 22}
            },
            "strokeWidth": {
              "field": "s", "type": "nominal",
              "scale": {"domain": ["10 SMA", "20 SMA", "50 SMA", "150 SMA", "200 SMA"], "range": [1.8, 1.8, 2.4, 2.7, 3]},
              "legend": null
            }
          }
        },
        {
          "data": {"name": "levels"},
          "mark": {"type": "rule", "strokeWidth": 2.6, "strokeDash": [10, 5]},
          "encoding": {
            "y": {"field": "y", "type": "quantitative"},
            "stroke": {"field": "lab", "type": "nominal", "legend": null,
                       "scale": {"domain": ["Tgt 180.0", "$150 Mark", "Buy 150.1", "Stop 135.0"],
                                 "range": ["#1E8585", "#0A8F4F", "#0A8F4F", "#A8244E"]}}
          }
        },
        {
          "data": {"name": "notes"},
          "mark": {"type": "rect", "fill": "#F3E1D3", "stroke": "#EAD7C7", "strokeWidth": 2, "cornerRadius": 6},
          "encoding": {
            "x": {"datum": -11.2, "type": "quantitative"}, "x2": {"datum": 16.0},
            "y": {"datum": 205.6, "type": "quantitative"}, "y2": {"datum": 175.8}
          }
        },
        {
          "data": {"name": "notes"},
          "mark": {"type": "text", "fontSize": 21, "lineHeight": 26.7, "lineBreak": "\n", "fill": "#2B2624", "align": "left", "baseline": "middle"},
          "encoding": {
            "x": {"datum": -10.4, "type": "quantitative"},
            "y": {"datum": 201.5, "type": "quantitative"},
            "text": {"field": "info"}
          }
        },
        {
          "data": {"name": "notes"},
          "mark": {"type": "rect", "fill": "#F3E1D3", "stroke": "#2D64A8", "strokeWidth": 2.5, "cornerRadius": 8},
          "encoding": {
            "x": {"datum": 99.8, "type": "quantitative"}, "x2": {"datum": 139.4},
            "y": {"datum": 207.0, "type": "quantitative"}, "y2": {"datum": 196.5}
          }
        },
        {
          "data": {"name": "notes"},
          "mark": {"type": "text", "fontSize": 30, "fontWeight": "bold", "fill": "#1C58A0", "align": "center", "baseline": "middle"},
          "encoding": {
            "x": {"datum": 119.6, "type": "quantitative"},
            "y": {"datum": 201.8, "type": "quantitative"},
            "text": {"field": "badge"}
          }
        },
        {
          "data": {"name": "levels"},
          "transform": [{"filter": "datum.lab == 'Tgt 180.0'"}],
          "mark": {"type": "text", "fontSize": 22, "fontWeight": "bold", "fill": "#0D7680", "align": "right", "baseline": "middle", "dy": 25},
          "encoding": {"x": {"datum": 236.9, "type": "quantitative"}, "y": {"field": "y", "type": "quantitative"}, "text": {"field": "lab"}}
        },
        {
          "data": {"name": "levels"},
          "transform": [{"filter": "datum.lab == '$150 Mark'"}],
          "mark": {"type": "text", "fontSize": 22, "fontWeight": "bold", "fill": "#1A1A2E", "align": "right", "baseline": "middle", "dy": -29},
          "encoding": {"x": {"datum": 236.9, "type": "quantitative"}, "y": {"field": "y", "type": "quantitative"}, "text": {"field": "lab"}}
        },
        {
          "data": {"name": "levels"},
          "transform": [{"filter": "datum.lab == 'Buy 150.1'"}],
          "mark": {"type": "text", "fontSize": 22, "fontWeight": "bold", "fill": "#0A9B55", "align": "right", "baseline": "middle", "dy": 26},
          "encoding": {"x": {"datum": 236.9, "type": "quantitative"}, "y": {"field": "y", "type": "quantitative"}, "text": {"field": "lab"}}
        },
        {
          "data": {"name": "levels"},
          "transform": [{"filter": "datum.lab == 'Stop 135.0'"}],
          "mark": {"type": "text", "fontSize": 22, "fontWeight": "bold", "fill": "#990F3D", "align": "right", "baseline": "middle", "dy": -31},
          "encoding": {"x": {"datum": 236.9, "type": "quantitative"}, "y": {"field": "y", "type": "quantitative"}, "text": {"field": "lab"}}
        }
      ]
    },
    {
      "width": 2305,
      "height": 352,
      "title": {
        "text": "CANSLIM Research \u00a0·\u00a0 https://canslim.blog",
        "orient": "bottom", "anchor": "middle", "frame": "group", "dx": 56, "offset": 40,
        "font": "DejaVu Serif", "fontSize": 24, "fontWeight": "bold", "color": "#33302E"
      },
      "layer": [
        {
          "data": {"name": "bars"},
          "mark": {"type": "bar", "size": 7.4, "stroke": "#2B7BB9", "strokeWidth": 1.2},
          "encoding": {
            "x": {"field": "i", "type": "quantitative", "scale": {"domain": [-13.1, 252.1], "nice": false, "zero": false, "padding": 0},
                  "axis": {"values": [0, 50, 100, 150, 200, 250], "grid": true,
                           "labelExpr": "datum.value == 0 ? '2025-Sep-09' : datum.value == 50 ? '2025-Nov-18' : datum.value == 100 ? '2026-Feb-02' : datum.value == 150 ? '2026-Apr-15' : datum.value == 200 ? '2026-Jun-26' : ''",
                           "labelAngle": 315, "labelAlign": "center", "labelBaseline": "middle", "labelPadding": 78,
                           "labelOverlap": false, "labelFlush": false, "labelBound": false, "labelFontSize": 25,
                           "tickColor": "#4A4542", "tickWidth": 1.2,
                           "title": "vol 1.5930924413124314 · short 0.1498%", "titleFontSize": 18, "titleColor": "#5A5450",
                           "titleX": 1209, "titleY": 243, "titleAlign": "center", "titleBaseline": "middle"}},
            "y": {"field": "v", "type": "quantitative", "scale": {"domain": [0, 220], "nice": false, "padding": 0},
                  "axis": {"orient": "right", "values": [50, 100, 150, 200], "grid": true, "labelPadding": 10,
                           "title": "Volume  10⁶", "titleAngle": 270, "titlePadding": 37, "titleAlign": "center", "titleBaseline": "middle"}},
            "fill": {"condition": {"test": "datum.c >= datum.o", "value": "#0D7680"}, "value": "#990F3D"}
          }
        },
        {
          "data": {"name": "avgvol"},
          "mark": {"type": "line", "strokeWidth": 3},
          "encoding": {
            "x": {"field": "i", "type": "quantitative"},
            "y": {"field": "v", "type": "quantitative"},
            "color": {"datum": "20D Avg Vol", "type": "nominal", "scale": {"domain": ["20D Avg Vol"], "range": ["#2E2A28"]},
                      "legend": {"orient": "none", "legendX": 11, "legendY": 8, "title": null, "padding": 3,
                                 "fillColor": "#FEF3EA", "strokeColor": "#E6D8CB", "cornerRadius": 5,
                                 "labelFontSize": 18, "labelColor": "#33302E", "symbolType": "stroke",
                                 "symbolSize": 1100, "symbolStrokeWidth": 3, "labelOffset": 18}}
          }
        }
      ]
    }
  ]
}
